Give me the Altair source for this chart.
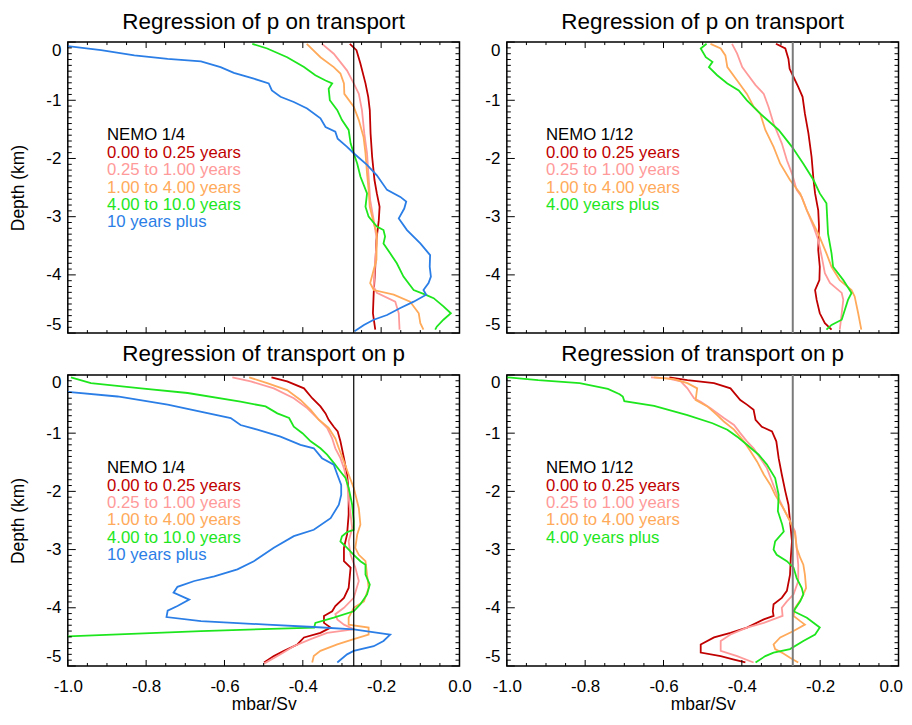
import altair as alt
import pandas as pd

FONT = "Liberation Sans"
C_DRED = "#c00000"
C_PINK = "#ff9a9a"
C_ORNG = "#ffaa5a"
C_GRN = "#1ee61e"
C_BLUE = "#2b7ee6"

W, H = 393, 292
REF_X = -0.27

X_MAJOR = [-1.0, -0.8, -0.6, -0.4, -0.2, 0.0]
X_MINOR = [-0.95, -0.9, -0.85, -0.75, -0.7, -0.65, -0.55, -0.5, -0.45,
           -0.35, -0.3, -0.25, -0.15, -0.1, -0.05]
Y_MAJOR = [0, -1, -2, -3, -4, -5]
Y_MINOR = [round(-k / 10, 1) for k in range(1, 50) if k % 10]

LEG_X = -0.9
LEG_Y = [-1.6, -1.9, -2.2, -2.5, -2.8, -3.1]

LAB_14 = ["NEMO 1/4", "0.00 to 0.25 years", "0.25 to 1.00 years",
          "1.00 to 4.00 years", "4.00 to 10.0 years", "10 years plus"]
LAB_112 = ["NEMO 1/12", "0.00 to 0.25 years", "0.25 to 1.00 years",
           "1.00 to 4.00 years", "4.00 years plus"]
COL_14 = ["black", C_DRED, C_PINK, C_ORNG, C_GRN, C_BLUE]
COL_112 = ["black", C_DRED, C_PINK, C_ORNG, C_GRN]

TITLE_TOP = "Regression of p on transport"
TITLE_BOT = "Regression of transport on p"

# ---------------- top-left: NEMO 1/4, p on transport ----------------
TL_dred_d = [-0.03, -0.14, -0.37, -0.71, -0.94, -1.17, -1.57, -1.97, -2.37, -2.6, -2.83, -3.06, -3.4, -3.86, -4.31, -4.66, -4.94]
TL_dred_x = [-0.280, -0.263, -0.253, -0.240, -0.233, -0.229, -0.227, -0.223, -0.217, -0.211, -0.204, -0.206, -0.212, -0.215, -0.219, -0.221, -0.215]
TL_pink_d = [-0.03, -0.2, -0.49, -0.71, -0.89, -1.17, -1.57, -1.91, -2.31, -2.71, -3.06, -3.4, -3.74, -4.2, -4.31, -4.46, -4.66, -4.94]
TL_pink_x = [-0.351, -0.321, -0.287, -0.270, -0.257, -0.249, -0.243, -0.236, -0.232, -0.228, -0.219, -0.211, -0.215, -0.219, -0.211, -0.164, -0.155, -0.153]
TL_orng_d = [-0.03, -0.26, -0.43, -0.54, -0.71, -0.89, -1.11, -1.34, -1.63, -1.91, -2.26, -2.54, -2.83, -3.11, -3.29, -3.74, -3.91, -4.14, -4.26, -4.34, -4.46, -4.66, -4.83, -4.94]
TL_orng_x = [-0.390, -0.355, -0.321, -0.304, -0.295, -0.294, -0.270, -0.257, -0.245, -0.240, -0.236, -0.232, -0.229, -0.219, -0.211, -0.212, -0.219, -0.228, -0.219, -0.168, -0.126, -0.104, -0.100, -0.092]
TL_grn_d = [-0.03, -0.11, -0.26, -0.43, -0.57, -0.66, -0.71, -0.8, -1.0, -1.17, -1.34, -1.51, -1.74, -1.91, -2.09, -2.31, -2.6, -2.83, -3.0, -3.17, -3.23, -3.34, -3.46, -3.63, -3.8, -4.03, -4.26, -4.34, -4.4, -4.54, -4.66, -4.77, -4.89, -4.94]
TL_grn_x = [-0.529, -0.491, -0.440, -0.397, -0.368, -0.342, -0.325, -0.334, -0.331, -0.312, -0.300, -0.283, -0.278, -0.270, -0.261, -0.253, -0.236, -0.240, -0.232, -0.211, -0.194, -0.190, -0.194, -0.177, -0.160, -0.143, -0.117, -0.087, -0.066, -0.041, -0.022, -0.041, -0.058, -0.062]
TL_blue_d = [-0.07, -0.14, -0.23, -0.29, -0.33, -0.43, -0.53, -0.63, -0.71, -0.83, -0.94, -1.03, -1.14, -1.31, -1.46, -1.54, -1.66, -1.8, -1.91, -2.11, -2.29, -2.54, -2.66, -2.74, -2.86, -3.03, -3.23, -3.46, -3.66, -3.86, -4.03, -4.14, -4.26, -4.34, -4.46, -4.57, -4.69, -4.77, -4.86, -4.97]
TL_blue_x = [-1.0, -0.915, -0.830, -0.745, -0.660, -0.610, -0.576, -0.525, -0.487, -0.479, -0.457, -0.423, -0.389, -0.355, -0.342, -0.317, -0.311, -0.287, -0.270, -0.236, -0.211, -0.185, -0.151, -0.136, -0.141, -0.155, -0.134, -0.100, -0.075, -0.076, -0.073, -0.079, -0.092, -0.085, -0.117, -0.151, -0.185, -0.219, -0.244, -0.268]

# ---------------- top-right: NEMO 1/12, p on transport ----------------
TR_dred_d = [-0.03, -0.11, -0.29, -0.46, -0.6, -0.77, -0.94, -1.23, -1.57, -1.97, -2.37, -2.6, -2.89, -3.17, -3.57, -3.86, -4.09, -4.26, -4.43, -4.66, -4.83, -4.94]
TR_dred_x = [-0.313, -0.289, -0.281, -0.278, -0.268, -0.256, -0.245, -0.239, -0.230, -0.222, -0.217, -0.213, -0.205, -0.203, -0.205, -0.201, -0.202, -0.213, -0.209, -0.201, -0.188, -0.171]
TR_pink_d = [-0.03, -0.2, -0.43, -0.54, -0.74, -0.89, -1.11, -1.4, -1.74, -2.03, -2.26, -2.54, -2.66, -2.89, -3.17, -3.4, -3.69, -3.97, -4.14, -4.31, -4.43, -4.66, -4.94]
TR_pink_x = [-0.425, -0.412, -0.399, -0.387, -0.365, -0.344, -0.332, -0.319, -0.298, -0.285, -0.272, -0.260, -0.247, -0.234, -0.217, -0.205, -0.196, -0.188, -0.175, -0.145, -0.141, -0.145, -0.150]
TR_orng_d = [-0.03, -0.11, -0.23, -0.43, -0.66, -0.89, -1.11, -1.23, -1.51, -1.8, -2.09, -2.37, -2.6, -2.89, -3.06, -3.29, -3.63, -3.86, -4.09, -4.26, -4.37, -4.66, -4.94]
TR_orng_x = [-0.480, -0.454, -0.442, -0.437, -0.412, -0.387, -0.370, -0.353, -0.340, -0.319, -0.302, -0.277, -0.251, -0.234, -0.222, -0.205, -0.184, -0.171, -0.150, -0.120, -0.112, -0.103, -0.095]
TR_grn_d = [-0.03, -0.11, -0.26, -0.34, -0.43, -0.57, -0.71, -0.83, -1.0, -1.23, -1.51, -1.8, -2.09, -2.37, -2.6, -2.77, -3.29, -3.63, -3.86, -4.09, -4.31, -4.43, -4.77, -4.86, -4.94]
TR_grn_x = [-0.490, -0.505, -0.492, -0.475, -0.484, -0.463, -0.437, -0.408, -0.387, -0.353, -0.306, -0.272, -0.243, -0.217, -0.201, -0.184, -0.180, -0.171, -0.167, -0.141, -0.120, -0.129, -0.145, -0.171, -0.184]

# ---------------- bottom-left: NEMO 1/4, transport on p ----------------
BL_dred_d = [-0.04, -0.11, -0.23, -0.4, -0.54, -0.66, -0.77, -0.89, -0.97, -1.14, -1.43, -1.71, -2.0, -2.4, -2.74, -2.97, -3.2, -3.31, -3.66, -3.83, -3.97, -4.06, -4.14, -4.26, -4.34, -4.43, -4.51, -4.63, -4.74, -4.83, -4.94]
BL_dred_x = [-0.480, -0.440, -0.397, -0.376, -0.355, -0.342, -0.334, -0.321, -0.311, -0.304, -0.295, -0.287, -0.283, -0.283, -0.287, -0.295, -0.295, -0.278, -0.283, -0.295, -0.317, -0.325, -0.346, -0.346, -0.329, -0.355, -0.397, -0.414, -0.448, -0.474, -0.499]
BL_pink_d = [-0.04, -0.11, -0.23, -0.4, -0.57, -0.74, -0.91, -1.09, -1.26, -1.43, -1.6, -1.83, -2.11, -2.4, -2.63, -2.86, -3.09, -3.31, -3.54, -3.83, -4.0, -4.11, -4.2, -4.29, -4.37, -4.43, -4.54, -4.66, -4.8, -4.96]
BL_pink_x = [-0.580, -0.533, -0.474, -0.423, -0.389, -0.363, -0.338, -0.325, -0.317, -0.304, -0.295, -0.287, -0.283, -0.278, -0.274, -0.283, -0.278, -0.266, -0.257, -0.270, -0.295, -0.317, -0.312, -0.295, -0.270, -0.338, -0.380, -0.423, -0.457, -0.499]
BL_orng_d = [-0.04, -0.14, -0.26, -0.43, -0.6, -0.77, -0.91, -1.09, -1.26, -1.49, -1.71, -1.94, -2.29, -2.57, -2.74, -2.97, -3.09, -3.2, -3.43, -3.66, -3.89, -4.0, -4.17, -4.29, -4.34, -4.46, -4.54, -4.63, -4.74, -4.83, -4.94]
BL_orng_x = [-0.537, -0.491, -0.440, -0.406, -0.380, -0.359, -0.334, -0.317, -0.308, -0.295, -0.283, -0.270, -0.257, -0.253, -0.261, -0.266, -0.257, -0.240, -0.236, -0.232, -0.244, -0.270, -0.283, -0.283, -0.232, -0.232, -0.270, -0.312, -0.355, -0.372, -0.376]
BL_grn_d = [-0.04, -0.14, -0.23, -0.31, -0.46, -0.54, -0.66, -0.74, -0.89, -1.0, -1.14, -1.26, -1.37, -1.51, -1.66, -1.77, -1.94, -2.23, -2.51, -2.66, -2.7, -2.77, -2.86, -2.97, -3.09, -3.2, -3.26, -3.43, -3.6, -3.77, -3.94, -4.06, -4.17, -4.26, -4.34, -4.4, -4.49]
BL_grn_x = [-0.992, -0.941, -0.813, -0.694, -0.559, -0.495, -0.465, -0.435, -0.423, -0.401, -0.380, -0.355, -0.338, -0.321, -0.304, -0.291, -0.283, -0.274, -0.270, -0.270, -0.287, -0.300, -0.304, -0.287, -0.270, -0.253, -0.240, -0.240, -0.229, -0.236, -0.253, -0.270, -0.321, -0.368, -0.371, -0.660, -1.0]
BL_blue_d = [-0.29, -0.37, -0.51, -0.74, -0.86, -0.94, -1.06, -1.2, -1.26, -1.43, -1.54, -1.71, -1.89, -2.06, -2.23, -2.46, -2.66, -2.77, -2.97, -3.2, -3.34, -3.46, -3.54, -3.64, -3.74, -3.86, -3.97, -4.05, -4.16, -4.23, -4.29, -4.33, -4.37, -4.46, -4.57, -4.66, -4.74, -4.8, -4.94]
BL_blue_x = [-1.0, -0.873, -0.745, -0.584, -0.559, -0.516, -0.457, -0.406, -0.372, -0.351, -0.321, -0.312, -0.302, -0.302, -0.308, -0.329, -0.372, -0.423, -0.474, -0.525, -0.567, -0.626, -0.677, -0.720, -0.730, -0.690, -0.720, -0.745, -0.748, -0.660, -0.491, -0.372, -0.270, -0.177, -0.194, -0.219, -0.270, -0.287, -0.312]

# ---------------- bottom-right: NEMO 1/12, transport on p ----------------
BR_dred_d = [-0.04, -0.09, -0.14, -0.23, -0.43, -0.51, -0.6, -0.77, -0.89, -0.97, -1.14, -1.43, -1.71, -2.0, -2.23, -2.51, -2.86, -3.14, -3.43, -3.71, -3.83, -3.94, -4.06, -4.14, -4.2, -4.34, -4.43, -4.51, -4.63, -4.77, -4.83, -4.89, -4.94]
BR_dred_x = [-0.585, -0.539, -0.471, -0.429, -0.404, -0.387, -0.370, -0.365, -0.349, -0.323, -0.312, -0.306, -0.298, -0.289, -0.281, -0.277, -0.272, -0.275, -0.277, -0.285, -0.298, -0.319, -0.321, -0.319, -0.344, -0.387, -0.429, -0.471, -0.505, -0.505, -0.454, -0.420, -0.391]
BR_pink_d = [-0.04, -0.06, -0.11, -0.23, -0.4, -0.46, -0.57, -0.74, -0.86, -1.0, -1.14, -1.26, -1.43, -1.6, -1.83, -2.06, -2.29, -2.51, -2.69, -2.97, -3.26, -3.54, -3.77, -3.89, -4.0, -4.14, -4.26, -4.34, -4.46, -4.57, -4.74, -4.83, -4.94]
BR_pink_x = [-0.632, -0.590, -0.556, -0.539, -0.522, -0.505, -0.480, -0.446, -0.420, -0.404, -0.387, -0.370, -0.353, -0.336, -0.323, -0.310, -0.294, -0.277, -0.264, -0.260, -0.256, -0.256, -0.268, -0.285, -0.298, -0.296, -0.344, -0.387, -0.429, -0.454, -0.454, -0.412, -0.370]
BR_orng_d = [-0.04, -0.07, -0.14, -0.23, -0.43, -0.54, -0.69, -0.8, -0.94, -1.14, -1.31, -1.49, -1.71, -1.89, -2.06, -2.29, -2.51, -2.74, -2.97, -3.14, -3.26, -3.43, -3.66, -3.83, -4.0, -4.14, -4.23, -4.29, -4.4, -4.51, -4.63, -4.71, -4.77, -4.86, -4.94]
BR_orng_x = [-0.624, -0.573, -0.539, -0.514, -0.518, -0.488, -0.463, -0.446, -0.420, -0.395, -0.378, -0.361, -0.344, -0.327, -0.315, -0.294, -0.277, -0.264, -0.260, -0.251, -0.243, -0.239, -0.236, -0.247, -0.264, -0.268, -0.251, -0.239, -0.268, -0.302, -0.319, -0.315, -0.298, -0.277, -0.256]
BR_grn_d = [-0.04, -0.09, -0.14, -0.24, -0.33, -0.37, -0.45, -0.53, -0.69, -0.83, -0.94, -1.06, -1.2, -1.37, -1.54, -1.77, -2.06, -2.34, -2.57, -2.69, -2.86, -3.0, -3.09, -3.2, -3.31, -3.49, -3.66, -3.77, -3.89, -4.06, -4.17, -4.34, -4.46, -4.57, -4.71, -4.77, -4.83, -4.94]
BR_grn_x = [-1.0, -0.920, -0.814, -0.742, -0.712, -0.704, -0.700, -0.624, -0.539, -0.475, -0.437, -0.412, -0.387, -0.357, -0.336, -0.315, -0.306, -0.308, -0.297, -0.293, -0.315, -0.319, -0.311, -0.285, -0.268, -0.260, -0.247, -0.243, -0.251, -0.268, -0.234, -0.201, -0.213, -0.243, -0.277, -0.319, -0.340, -0.365]


def frame(xs, ys):
    return pd.DataFrame({"x": xs, "y": ys, "i": list(range(len(xs)))})


def panel(series, labels, colors, title, bottom, left, ref_color, ref_width):
    xaxis = None
    if bottom:
        if left:
            lab_align = "center"
            lab_off = 0
        else:
            lab_align = {"condition": {"test": "datum.value == 0", "value": "right"},
                         "value": "center"}
            lab_off = {"condition": {"test": "datum.value == 0", "value": 4},
                       "value": 0}
        xaxis = alt.Axis(values=X_MAJOR, ticks=False, domain=False, grid=False,
                         labelExpr="datum.value == 0 ? '0.0' : '-' + format(abs(datum.value), '.1f')",
                         labelFont=FONT, labelFontSize=17, labelColor="black",
                         labelAlign=lab_align, labelOffset=lab_off,
                         labelPadding=13, labelFlush=False, labelOverlap=False,
                         title="mbar/Sv", titleFont=FONT, titleFontSize=17.5,
                         titleFontWeight="normal", titleColor="black", titlePadding=1)
    yaxis = alt.Axis(values=Y_MAJOR, ticks=False, domain=False, grid=False,
                     labelExpr="datum.value == 0 ? '0' : '-' + format(abs(datum.value), 'd')",
                     labelFont=FONT, labelFontSize=17, labelColor="black",
                     labelPadding=7, labelFlush=True, labelOverlap=False,
                     title="Depth (km)" if left else None, titleFont=FONT,
                     titleFontSize=17.5, titleFontWeight="normal",
                     titleColor="black", titlePadding=18)
    xenc = alt.X("x:Q", scale=alt.Scale(domain=[-1.0, 0.0], nice=False, zero=False), axis=xaxis)
    yenc = alt.Y("y:Q", scale=alt.Scale(domain=[-5.0, 0.0], nice=False, zero=False), axis=yaxis)

    layers = []
    for (xs, ds), col in zip(series, colors[1:]):
        layers.append(alt.Chart(frame(xs, ds)).mark_line(
            color=col, strokeWidth=1.8, clip=True).encode(x=xenc, y=yenc, order="i:Q"))

    layers.append(alt.Chart(pd.DataFrame({"x": [REF_X]})).mark_rule(
        color=ref_color, strokeWidth=ref_width).encode(x=xenc))

    leg = pd.DataFrame({"x": [LEG_X] * len(labels), "y": LEG_Y[:len(labels)],
                        "t": labels, "c": colors})
    layers.append(alt.Chart(leg).mark_text(
        align="left", baseline="middle", font=FONT, fontSize=16.8).encode(
        x=xenc, y=yenc, text="t:N", color=alt.Color("c:N", scale=None)))

    xmaj = pd.DataFrame({"x": X_MAJOR})
    xmin = pd.DataFrame({"x": X_MINOR})
    ymaj = pd.DataFrame({"y": Y_MAJOR})
    ymin = pd.DataFrame({"y": Y_MINOR})
    for df, L in [(xmaj, 6), (xmin, 3)]:
        b = alt.Chart(df).mark_rule(color="black", strokeWidth=1)
        layers.append(b.encode(x=xenc, y=alt.value(H), y2=alt.value(H - L)))
        layers.append(b.encode(x=xenc, y=alt.value(0), y2=alt.value(L)))
    for df, L in [(ymaj, 8), (ymin, 4)]:
        b = alt.Chart(df).mark_rule(color="black", strokeWidth=1)
        layers.append(b.encode(y=yenc, x=alt.value(0), x2=alt.value(L)))
        layers.append(b.encode(y=yenc, x=alt.value(W), x2=alt.value(W - L)))

    return alt.layer(*layers).properties(
        width=W, height=H,
        title=alt.TitleParams(title, font=FONT, fontSize=22.5, fontWeight="normal",
                              color="black", anchor="middle", frame="group", offset=8))


tl = panel([(TL_dred_x, TL_dred_d), (TL_pink_x, TL_pink_d), (TL_orng_x, TL_orng_d),
            (TL_grn_x, TL_grn_d), (TL_blue_x, TL_blue_d)],
           LAB_14, COL_14, TITLE_TOP, False, True, "black", 1.2)
tr = panel([(TR_dred_x, TR_dred_d), (TR_pink_x, TR_pink_d), (TR_orng_x, TR_orng_d),
            (TR_grn_x, TR_grn_d)],
           LAB_112, COL_112, TITLE_TOP, False, False, "#7a7a7a", 2)
bl = panel([(BL_dred_x, BL_dred_d), (BL_pink_x, BL_pink_d), (BL_orng_x, BL_orng_d),
            (BL_grn_x, BL_grn_d), (BL_blue_x, BL_blue_d)],
           LAB_14, COL_14, TITLE_BOT, True, True, "black", 1.2)
br = panel([(BR_dred_x, BR_dred_d), (BR_pink_x, BR_pink_d), (BR_orng_x, BR_orng_d),
            (BR_grn_x, BR_grn_d)],
           LAB_112, COL_112, TITLE_BOT, True, False, "#7a7a7a", 2)

chart = alt.vconcat(
    alt.hconcat(tl, tr, spacing=47.5, bounds="flush"),
    alt.hconcat(bl, br, spacing=47.5, bounds="flush"),
    spacing=7,
).properties(padding={"left": 1, "top": 0, "right": 0, "bottom": -3}).configure_view(
    stroke="black", strokeWidth=1.5
)

chart.save("out.html", embed_options={"renderer": "svg", "actions": False})
